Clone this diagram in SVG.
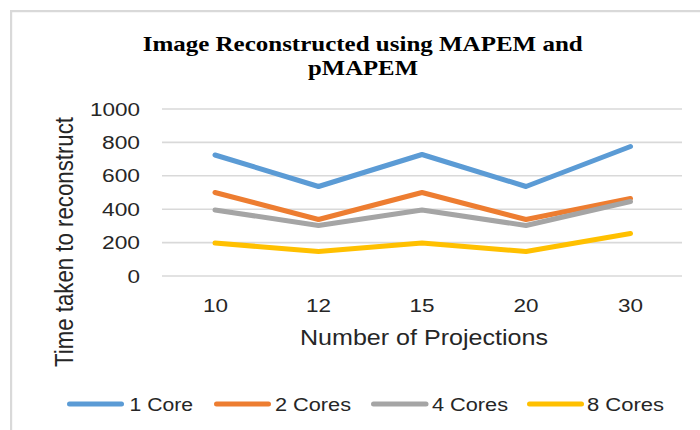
<svg xmlns="http://www.w3.org/2000/svg" width="700" height="430" viewBox="0 0 700 430">
<style>
.grid{stroke:#d9d9d9;stroke-width:1.6;fill:none}
.frame{stroke:#d9d9d9;stroke-width:2.2;fill:none}
.s{fill:none;stroke-width:5;stroke-linecap:round;stroke-linejoin:round}
.c1{stroke:#5b9bd5}.c2{stroke:#ed7d31}.c3{stroke:#a5a5a5}.c4{stroke:#ffc000}
.t{font-family:"Liberation Sans",Arial,sans-serif;fill:#262626}
.tick{font-size:18px}
.ttl{font-family:"Liberation Serif","Times New Roman",serif;font-weight:bold;font-size:21px;fill:#000}
</style>
<rect width="700" height="430" fill="#fff"/>
<path class="frame" d="M11.1 430 V11.1 H700"/>
<g id="title">
<text class="ttl" x="362.7" y="51" text-anchor="middle" textLength="440" lengthAdjust="spacingAndGlyphs">Image Reconstructed using MAPEM and</text>
<text class="ttl" x="363" y="75" text-anchor="middle" textLength="110" lengthAdjust="spacingAndGlyphs">pMAPEM</text>
</g>
<g id="gridlines">
<path class="grid" d="M162 109H682M162 142.4H682M162 175.8H682M162 209.2H682M162 242.6H682M162 276H682"/>
</g>
<g id="y-axis" class="t tick" text-anchor="end">
<text x="140" y="115.5" textLength="50" lengthAdjust="spacingAndGlyphs">1000</text>
<text x="140" y="148.9" textLength="38" lengthAdjust="spacingAndGlyphs">800</text>
<text x="140" y="182.3" textLength="38" lengthAdjust="spacingAndGlyphs">600</text>
<text x="140" y="215.7" textLength="38" lengthAdjust="spacingAndGlyphs">400</text>
<text x="140" y="249.1" textLength="38" lengthAdjust="spacingAndGlyphs">200</text>
<text x="140" y="282.5" textLength="12.5" lengthAdjust="spacingAndGlyphs">0</text>
</g>
<g id="x-axis" class="t tick" text-anchor="middle">
<text x="215.5" y="312" textLength="25" lengthAdjust="spacingAndGlyphs">10</text>
<text x="318.5" y="312" textLength="25" lengthAdjust="spacingAndGlyphs">12</text>
<text x="422" y="312" textLength="25" lengthAdjust="spacingAndGlyphs">15</text>
<text x="526" y="312" textLength="25" lengthAdjust="spacingAndGlyphs">20</text>
<text x="630.5" y="312" textLength="25" lengthAdjust="spacingAndGlyphs">30</text>
</g>
<g id="axis-titles" class="t">
<text x="424" y="345" font-size="22" text-anchor="middle" textLength="248" lengthAdjust="spacingAndGlyphs">Number of Projections</text>
<text transform="translate(73,242) scale(1.17,1) rotate(-90)" font-size="22" text-anchor="middle" textLength="250" lengthAdjust="spacingAndGlyphs">Time taken to reconstruct</text>
</g>
<g id="series">
<polyline class="s c1" points="215,155 318.5,186.5 422,154.5 526,186.5 630.5,146.5"/>
<polyline class="s c2" points="215,192.5 318.5,219.5 422,192.5 526,219.5 630.5,198.5"/>
<polyline class="s c3" points="215,210 318.5,225.5 422,210 526,225.5 630.5,201.5"/>
<polyline class="s c4" points="215,243 318.5,251.5 422,243 526,251.5 630.5,233.5"/>
</g>
<g id="legend" class="t tick">
<path class="s c1" d="M69.5 404H121.5"/>
<text x="129.5" y="410.5" textLength="63.5" lengthAdjust="spacingAndGlyphs">1 Core</text>
<path class="s c2" d="M216.5 404H268.5"/>
<text x="275" y="410.5" textLength="76" lengthAdjust="spacingAndGlyphs">2 Cores</text>
<path class="s c3" d="M373.5 404H426"/>
<text x="432" y="410.5" textLength="76" lengthAdjust="spacingAndGlyphs">4 Cores</text>
<path class="s c4" d="M529.5 404H581.5"/>
<text x="587" y="410.5" textLength="77" lengthAdjust="spacingAndGlyphs">8 Cores</text>
</g>
</svg>
